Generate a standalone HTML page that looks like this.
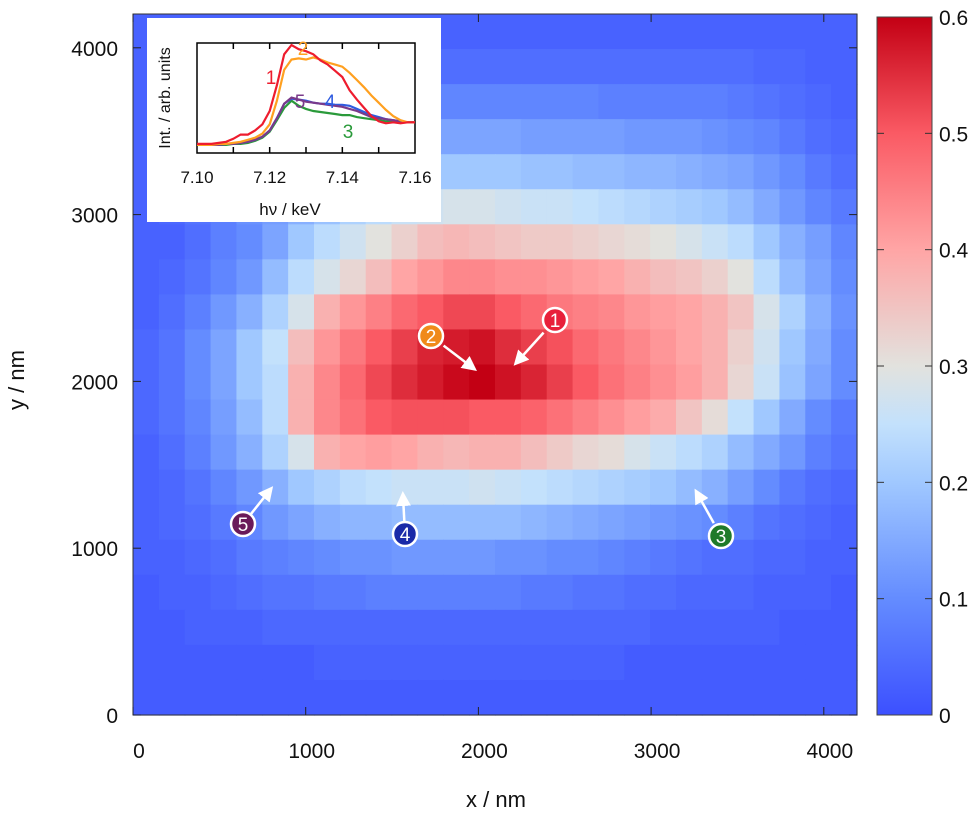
<!DOCTYPE html>
<html><head><meta charset="utf-8"><style>
html,body{margin:0;padding:0;background:#fff;}
svg{display:block;font-family:"Liberation Sans",sans-serif;}
</style></head><body>
<svg id="chart" width="980" height="813" viewBox="0 0 980 813" xmlns="http://www.w3.org/2000/svg">
<defs>
<linearGradient id="cbg" x1="0" y1="1" x2="0" y2="0">
<stop offset="0" stop-color="rgb(60,80,255)"/>
<stop offset="0.1667" stop-color="rgb(100,140,255)"/>
<stop offset="0.3333" stop-color="rgb(160,200,255)"/>
<stop offset="0.4167" stop-color="rgb(195,225,252)"/>
<stop offset="0.5" stop-color="rgb(226,226,222)"/>
<stop offset="0.6667" stop-color="rgb(255,165,165)"/>
<stop offset="0.8333" stop-color="rgb(250,90,100)"/>
<stop offset="1" stop-color="rgb(195,0,20)"/>
</linearGradient>
<marker id="ah" markerWidth="6" markerHeight="6" refX="4" refY="3" orient="auto"><path d="M0,0 L6,3 L0,6 z" fill="#fff"/></marker>
</defs>
<g id="heat"></g>
<g id="axes"></g>
<g id="inset"></g>
<g id="annot"></g>
</svg>
<script>
const mapValues = [
[0.03,0.03,0.03,0.03,0.03,0.03,0.03,0.03,0.03,0.03,0.03,0.03,0.03,0.03,0.03,0.03,0.03,0.03,0.03,0.03,0.03,0.03,0.03,0.03,0.03,0.03,0.03,0.03],
[0.03,0.03,0.03,0.03,0.04,0.04,0.05,0.05,0.05,0.05,0.05,0.05,0.05,0.05,0.05,0.05,0.05,0.05,0.05,0.05,0.05,0.05,0.05,0.05,0.04,0.04,0.03,0.03],
[0.03,0.03,0.04,0.05,0.06,0.06,0.07,0.08,0.08,0.09,0.09,0.09,0.09,0.09,0.09,0.09,0.09,0.09,0.08,0.08,0.08,0.08,0.08,0.07,0.06,0.05,0.04,0.03],
[0.03,0.03,0.04,0.05,0.07,0.08,0.1,0.11,0.12,0.13,0.13,0.14,0.14,0.14,0.14,0.13,0.13,0.13,0.13,0.12,0.12,0.12,0.11,0.1,0.09,0.07,0.05,0.04],
[0.03,0.04,0.05,0.07,0.09,0.11,0.13,0.15,0.17,0.18,0.19,0.2,0.2,0.2,0.2,0.19,0.19,0.18,0.18,0.17,0.17,0.16,0.15,0.14,0.12,0.1,0.07,0.05],
[0.03,0.04,0.06,0.08,0.11,0.13,0.16,0.19,0.22,0.24,0.26,0.27,0.28,0.28,0.27,0.26,0.26,0.25,0.24,0.23,0.22,0.21,0.2,0.18,0.15,0.12,0.09,0.07],
[0.03,0.03,0.05,0.08,0.1,0.14,0.2,0.24,0.27,0.3,0.33,0.36,0.37,0.36,0.35,0.34,0.34,0.33,0.32,0.31,0.3,0.28,0.26,0.24,0.2,0.16,0.13,0.09],
[0.03,0.04,0.06,0.09,0.12,0.18,0.24,0.28,0.32,0.36,0.4,0.42,0.44,0.44,0.43,0.43,0.42,0.41,0.4,0.38,0.36,0.35,0.33,0.3,0.24,0.18,0.14,0.1],
[0.03,0.05,0.08,0.12,0.16,0.22,0.28,0.38,0.42,0.45,0.48,0.5,0.52,0.52,0.5,0.48,0.46,0.45,0.44,0.42,0.41,0.4,0.38,0.35,0.28,0.22,0.16,0.11],
[0.04,0.06,0.1,0.14,0.2,0.25,0.36,0.42,0.46,0.5,0.53,0.56,0.57,0.58,0.55,0.53,0.51,0.48,0.46,0.44,0.42,0.4,0.38,0.33,0.27,0.2,0.15,0.1],
[0.04,0.06,0.1,0.14,0.2,0.24,0.38,0.44,0.48,0.52,0.55,0.57,0.59,0.6,0.58,0.56,0.53,0.5,0.47,0.45,0.43,0.41,0.38,0.32,0.26,0.19,0.14,0.1],
[0.04,0.06,0.09,0.13,0.18,0.24,0.38,0.44,0.47,0.5,0.51,0.51,0.51,0.5,0.5,0.49,0.47,0.45,0.43,0.41,0.39,0.35,0.31,0.25,0.2,0.15,0.1,0.07],
[0.03,0.05,0.08,0.12,0.16,0.22,0.28,0.38,0.4,0.41,0.4,0.38,0.37,0.38,0.38,0.36,0.34,0.32,0.31,0.28,0.26,0.24,0.22,0.18,0.15,0.12,0.08,0.06],
[0.03,0.04,0.06,0.09,0.12,0.16,0.2,0.22,0.24,0.25,0.26,0.26,0.26,0.27,0.26,0.25,0.24,0.23,0.22,0.21,0.2,0.18,0.16,0.13,0.1,0.07,0.05,0.04],
[0.03,0.04,0.05,0.07,0.09,0.12,0.14,0.16,0.17,0.17,0.18,0.18,0.18,0.18,0.18,0.17,0.16,0.15,0.14,0.13,0.12,0.11,0.1,0.08,0.06,0.05,0.04,0.03],
[0.03,0.03,0.04,0.05,0.07,0.08,0.09,0.1,0.11,0.11,0.12,0.12,0.12,0.12,0.11,0.11,0.1,0.1,0.09,0.08,0.07,0.06,0.05,0.05,0.04,0.04,0.03,0.03],
[0.02,0.03,0.03,0.04,0.05,0.06,0.06,0.07,0.07,0.08,0.08,0.08,0.08,0.08,0.08,0.07,0.07,0.06,0.06,0.05,0.05,0.04,0.04,0.04,0.03,0.03,0.03,0.02],
[0.02,0.02,0.03,0.03,0.03,0.04,0.04,0.04,0.04,0.04,0.04,0.04,0.04,0.04,0.04,0.04,0.04,0.04,0.04,0.04,0.03,0.03,0.03,0.03,0.03,0.02,0.02,0.02],
[0.02,0.02,0.02,0.02,0.02,0.02,0.02,0.03,0.03,0.03,0.03,0.03,0.03,0.03,0.03,0.03,0.03,0.03,0.03,0.02,0.02,0.02,0.02,0.02,0.02,0.02,0.02,0.02],
[0.02,0.02,0.02,0.02,0.02,0.02,0.02,0.02,0.02,0.02,0.02,0.02,0.02,0.02,0.02,0.02,0.02,0.02,0.02,0.02,0.02,0.02,0.02,0.02,0.02,0.02,0.02,0.02]
];
const xTicks = [0,1000,2000,3000,4000];
const yTicks = [0,1000,2000,3000,4000];
const cbTicks = [0,0.1,0.2,0.3,0.4,0.5,0.6];
const energies = [7.100,7.102,7.104,7.106,7.108,7.110,7.112,7.114,7.116,7.118,7.120,7.122,7.124,7.126,7.128,7.130,7.132,7.134,7.136,7.138,7.140,7.142,7.144,7.146,7.148,7.150,7.152,7.154,7.156,7.158,7.160];
const spec1 = [0.03,0.03,0.03,0.04,0.05,0.08,0.12,0.12,0.16,0.22,0.35,0.6,0.9,0.99,0.95,0.93,0.9,0.84,0.8,0.74,0.68,0.55,0.46,0.38,0.3,0.25,0.23,0.24,0.23,0.24,0.24];
const spec2 = [0.02,0.02,0.02,0.03,0.03,0.04,0.05,0.07,0.09,0.13,0.22,0.45,0.75,0.85,0.86,0.85,0.87,0.85,0.82,0.8,0.78,0.72,0.65,0.58,0.5,0.43,0.36,0.3,0.26,0.24,0.24];
const spec5 = [0.02,0.02,0.02,0.02,0.03,0.03,0.04,0.05,0.07,0.1,0.16,0.28,0.42,0.48,0.46,0.44,0.43,0.42,0.41,0.4,0.39,0.37,0.35,0.32,0.29,0.28,0.27,0.26,0.25,0.24,0.24];
const spec4 = [0.02,0.02,0.02,0.02,0.03,0.03,0.04,0.05,0.07,0.1,0.16,0.28,0.42,0.47,0.46,0.45,0.43,0.42,0.42,0.41,0.41,0.4,0.37,0.34,0.31,0.29,0.27,0.26,0.25,0.24,0.24];
const spec3 = [0.02,0.02,0.02,0.02,0.02,0.03,0.03,0.04,0.06,0.09,0.15,0.26,0.38,0.45,0.4,0.37,0.35,0.34,0.33,0.32,0.31,0.31,0.29,0.28,0.27,0.26,0.25,0.25,0.24,0.24,0.24];
const eTicks = [7.10,7.12,7.14,7.16];

const NS="http://www.w3.org/2000/svg";
function mk(tag, attrs, parent){const e=document.createElementNS(NS,tag);for(const k in attrs)e.setAttribute(k,attrs[k]);parent.appendChild(e);return e;}
const PL=133, PR=857, PT=14, PB=715;
const xs = v => 133 + 0.1727*v;
const ys = v => 715 - 0.1668*v;
const stops=[[0,[60,80,255]],[0.1,[100,140,255]],[0.2,[160,200,255]],[0.25,[195,225,252]],[0.3,[226,226,222]],[0.4,[255,165,165]],[0.5,[250,90,100]],[0.6,[195,0,20]]];
function cmap(v){v=Math.max(0,Math.min(0.6,v));for(let i=1;i<stops.length;i++){if(v<=stops[i][0]){const a=stops[i-1],b=stops[i],t=(v-a[0])/(b[0]-a[0]);return 'rgb('+a[1].map((c,j)=>Math.round(c+(b[1][j]-c)*t)).join(',')+')';}}return 'rgb(195,0,20)';}

const heat=document.getElementById('heat');
const nR=mapValues.length, nC=mapValues[0].length;
const cw=(PR-PL)/nC, rh=(PB-PT)/nR;
for(let r=0;r<nR;r++)for(let c=0;c<nC;c++){
  const el=mk('rect',{x:(PL+c*cw).toFixed(2),y:(PT+r*rh).toFixed(2),width:(cw+0.6).toFixed(2),height:(rh+0.6).toFixed(2),fill:cmap(mapValues[r][c])},heat);
  
  
}
const axes=document.getElementById('axes');
const frame=mk('rect',{x:PL,y:PT,width:PR-PL,height:PB-PT,fill:'none',stroke:'#333','stroke-width':1},axes);


xTicks.forEach(v=>{
  const x=xs(v);
  mk('line',{x1:x,y1:PB,x2:x,y2:PB-8,stroke:'#222'},axes);
  mk('line',{x1:x,y1:PT,x2:x,y2:PT+8,stroke:'#222'},axes);
  const t=mk('text',{x:x+6,y:758,'font-size':21,'text-anchor':'middle',fill:'#111'},axes);t.textContent=v;
  
  
});
yTicks.forEach(v=>{
  const y=ys(v);
  mk('line',{x1:PL,y1:y,x2:PL+8,y2:y,stroke:'#222'},axes);
  mk('line',{x1:PR,y1:y,x2:PR-8,y2:y,stroke:'#222'},axes);
  const t=mk('text',{x:118,y:y+8,'font-size':21,'text-anchor':'end',fill:'#111'},axes);t.textContent=v;
  
  
});
let xt=mk('text',{x:496,y:807,'font-size':22,'text-anchor':'middle',fill:'#111'},axes);xt.textContent='x / nm';


let yt=mk('text',{x:0,y:0,'font-size':22,'text-anchor':'middle',fill:'#111',transform:'translate(24,380) rotate(-90)'},axes);yt.textContent='y / nm';


// colorbar
const CB={x:877,w:55,top:17,bot:715};
const cbs=v=>CB.bot-(v/0.6)*(CB.bot-CB.top);
const cb=mk('rect',{x:CB.x,y:CB.top,width:CB.w,height:CB.bot-CB.top,fill:'url(#cbg)',stroke:'#444','stroke-width':1},axes);


cbTicks.forEach(v=>{
  const y=cbs(v);
  if(v>0&&v<0.6){mk('line',{x1:CB.x,y1:y,x2:CB.x+7,y2:y,stroke:'#333'},axes);mk('line',{x1:CB.x+CB.w,y1:y,x2:CB.x+CB.w-7,y2:y,stroke:'#333'},axes);}
  const t=mk('text',{x:939,y:y+8,'font-size':21,fill:'#111'},axes);t.textContent=(v===0?'0':v.toFixed(1));
  
  
});
// inset
const inset=document.getElementById('inset');
mk('rect',{x:147,y:18,width:294,height:204,fill:'#fff'},inset);
const IL=197, IR=415, IT=43, IB=153;
const ex=e=>IL+(e-7.10)/0.06*(IR-IL);
const ey=v=>IB-6-v*(IB-IT-7);
mk('rect',{x:IL,y:IT,width:IR-IL,height:IB-IT,fill:'none',stroke:'#000','stroke-width':1.5},inset);
for(let k=1;k<6;k++){const x=ex(7.10+k*0.01);mk('line',{x1:x,y1:IB,x2:x,y2:IB-6,stroke:'#000','stroke-width':1.5},inset);mk('line',{x1:x,y1:IT,x2:x,y2:IT+6,stroke:'#000','stroke-width':1.5},inset);}
eTicks.forEach(e=>{const t=mk('text',{x:ex(e),y:183,'font-size':17,'text-anchor':'middle',fill:'#111'},inset);t.textContent=e.toFixed(2);
  
  });
let it=mk('text',{x:290,y:215,'font-size':17,'text-anchor':'middle',fill:'#111'},inset);it.textContent='hν / keV';


let iy=mk('text',{x:0,y:0,'font-size':16,'text-anchor':'middle',fill:'#111',transform:'translate(170,98) rotate(-90)'},inset);iy.textContent='Int. / arb. units';


const series=[[spec3,'#2a9a3a','spectrum-3'],[spec4,'#2e5be0','spectrum-4'],[spec5,'#7a3a8a','spectrum-5'],[spec2,'#ffa020','spectrum-2'],[spec1,'#ee1c2e','spectrum-1']];
series.forEach(s=>{
  const d=energies.map((e,i)=>(i?'L':'M')+ex(e).toFixed(1)+','+ey(s[0][i]).toFixed(1)).join(' ');
  const p=mk('path',{d:d,fill:'none',stroke:s[1],'stroke-width':2.2},inset);
  
  
});
[['1',271,84,'#ee1c2e'],['2',303,55,'#ffa020'],['5',300,108,'#7a3a8a'],['4',330,108,'#2e5be0'],['3',348,138,'#2a9a3a']].forEach(l=>{
  const t=mk('text',{x:l[1],y:l[2],'font-size':19,'text-anchor':'middle',fill:l[3]},inset);t.textContent=l[0];
  
  
});
// annotations
const annot=document.getElementById('annot');
[['1',555,320,'#e8203a',517,362],['2',431,336,'#f08a1a',473,368],['3',721,536,'#1f7a2a',697,493],['4',405,534,'#1a2aa8',403,496],['5',243,524,'#6a1a5a',270,490]].forEach(a=>{
  const ln=mk('line',{x1:a[1]+(a[4]-a[1])*0.3,y1:a[2]+(a[5]-a[2])*0.3,x2:a[4],y2:a[5],stroke:'#fff','stroke-width':2.5,'marker-end':'url(#ah)'},annot);
  
  
  const c=mk('circle',{cx:a[1],cy:a[2],r:12,fill:a[3],stroke:'#fff','stroke-width':2.5},annot);
  
  
  const t=mk('text',{x:a[1],y:a[2]+7,'font-size':19,'text-anchor':'middle',fill:'#fff'},annot);t.textContent=a[0];
  
  
});
</script>
</body></html>
